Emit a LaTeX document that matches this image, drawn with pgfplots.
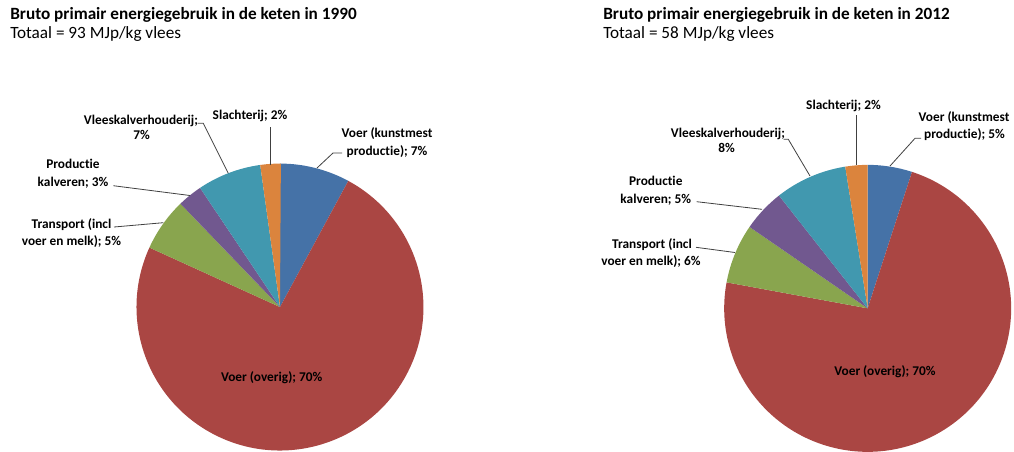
\documentclass[border=0pt]{standalone}
\usepackage{fontspec}
\setmainfont{Carlito}[Ligatures=NoCommon]
\usepackage{pgfplots}
\pgfplotsset{compat=1.18}
\usepackage{pgfplotstable}

\definecolor{cBlue}{HTML}{4572A7}
\definecolor{cRed}{HTML}{AA4643}
\definecolor{cGreen}{HTML}{89A54E}
\definecolor{cPurple}{HTML}{71588F}
\definecolor{cTeal}{HTML}{4198AF}
\definecolor{cOrange}{HTML}{DB843D}
\definecolor{lead}{HTML}{404040}

% slice shares (%), clockwise from 12 o'clock
\pgfplotstableread{
share color
7.9   cBlue
73.9  cRed
6.0   cGreen
2.8   cPurple
7.2   cTeal
2.3   cOrange
}\dataA
\pgfplotstableread{
share color
5.0   cBlue
72.9  cRed
6.7   cGreen
4.8   cPurple
8.1   cTeal
2.5   cOrange
}\dataB

\def\pieR{107.6pt}

\newcommand{\drawpie}[1]{%
  \gdef\cum{0}%
  \pgfplotstablegetrowsof{#1}%
  \pgfmathtruncatemacro{\nrows}{\pgfplotsretval-1}%
  \pgfplotsforeachungrouped \i in {0,...,\nrows}{%
    \pgfplotstablegetelem{\i}{share}\of{#1}\let\sh\pgfplotsretval
    \pgfplotstablegetelem{\i}{color}\of{#1}\let\col\pgfplotsretval
    \pgfmathsetmacro{\aS}{90-3.6*\cum}%
    \pgfmathsetmacro{\aE}{90-3.6*(\cum+\sh)}%
    \edef\doslice{\noexpand\addplot[fill=\col, draw=none, data cs=polar] coordinates {(0,0) (\aS,1)} arc[start angle=\aS, end angle=\aE, radius=\pieR] -- cycle;}%
    \doslice
    \pgfmathsetmacro{\newcum}{\cum+\sh}\global\let\cum\newcum
  }%
}

\pgfplotsset{pieaxis/.style={
  x=\pieR, y=\pieR, xmin=-1, xmax=1, ymin=-1, ymax=1,
  hide axis, clip=false, scale only axis, anchor=south west}}

\begin{document}
\begin{tikzpicture}[x=0.75pt, y=-0.75pt]
\useasboundingbox (0,0) rectangle (1014,451);
\coordinate (sw1) at (136.5,450.5);
\coordinate (sw2) at (724.2,451.8);

\begin{axis}[pieaxis, at={(sw1)}]
\drawpie{\dataA}
\end{axis}
\begin{axis}[pieaxis, at={(sw2)}]
\drawpie{\dataB}
\end{axis}

% titles
\tikzset{ttl/.style={anchor=base west, inner sep=0pt, font=\fontsize{12.9}{15}\selectfont},
         lbl/.style={anchor=base, inner sep=0pt, font=\bfseries\fontsize{10}{12}\selectfont}}
\node[ttl, font=\bfseries\fontsize{12.9}{15}\selectfont] at (10,19.5) {Bruto primair energiegebruik in de keten in 1990};
\node[ttl] at (10,38) {Totaal = 93 MJp/kg vlees};
\node[ttl, font=\bfseries\fontsize{12.9}{15}\selectfont] at (603,19.5) {Bruto primair energiegebruik in de keten in 2012};
\node[ttl] at (603,38) {Totaal = 58 MJp/kg vlees};

% leader lines
\begin{scope}[lead, line width=0.6pt]
\draw (317,168) -- (333,153) -- (342,153);
\draw (270,164.5) -- (270,126.5);
\draw (228.3,173.3) -- (203.3,123.3) -- (197.5,123.3);
\draw (190,195.5) -- (113.3,185.7);
\draw (163.3,222.7) -- (114,227);
\draw (890,166) -- (915,138.3) -- (921,138.3);
\draw (856.3,165) -- (856.3,115);
\draw (810,176) -- (788.3,139.3) -- (783.5,139.3);
\draw (762,209.3) -- (696.7,201.7);
\draw (735,252.5) -- (696,247.3);
\end{scope}

% labels, 1990
\node[lbl] at (387,137.7) {Voer (kunstmest};
\node[lbl] at (387,155) {productie); 7\%};
\node[lbl] at (250,119) {Slachterij; 2\%};
\node[lbl] at (141,124) {Vleeskalverhouderij;};
\node[lbl] at (141.5,139.3) {7\%};
\node[lbl] at (73,168.3) {Productie};
\node[lbl] at (73,186) {kalveren; 3\%};
\node[lbl] at (71.5,228.3) {Transport (incl};
\node[lbl] at (71.5,245) {voer en melk); 5\%};
\node[lbl] at (271.7,381.7) {Voer (overig); 70\%};

% labels, 2012
\node[lbl] at (964,121.7) {Voer (kunstmest};
\node[lbl] at (964.5,138.3) {productie); 5\%};
\node[lbl] at (843.5,109) {Slachterij; 2\%};
\node[lbl] at (728,137.7) {Vleeskalverhouderij;};
\node[lbl] at (726.7,152.7) {8\%};
\node[lbl] at (655.8,185.7) {Productie};
\node[lbl] at (655.8,203.3) {kalveren; 5\%};
\node[lbl] at (652,248.3) {Transport (incl};
\node[lbl] at (651,265) {voer en melk); 6\%};
\node[lbl] at (885,375) {Voer (overig); 70\%};
\end{tikzpicture}
\end{document}
